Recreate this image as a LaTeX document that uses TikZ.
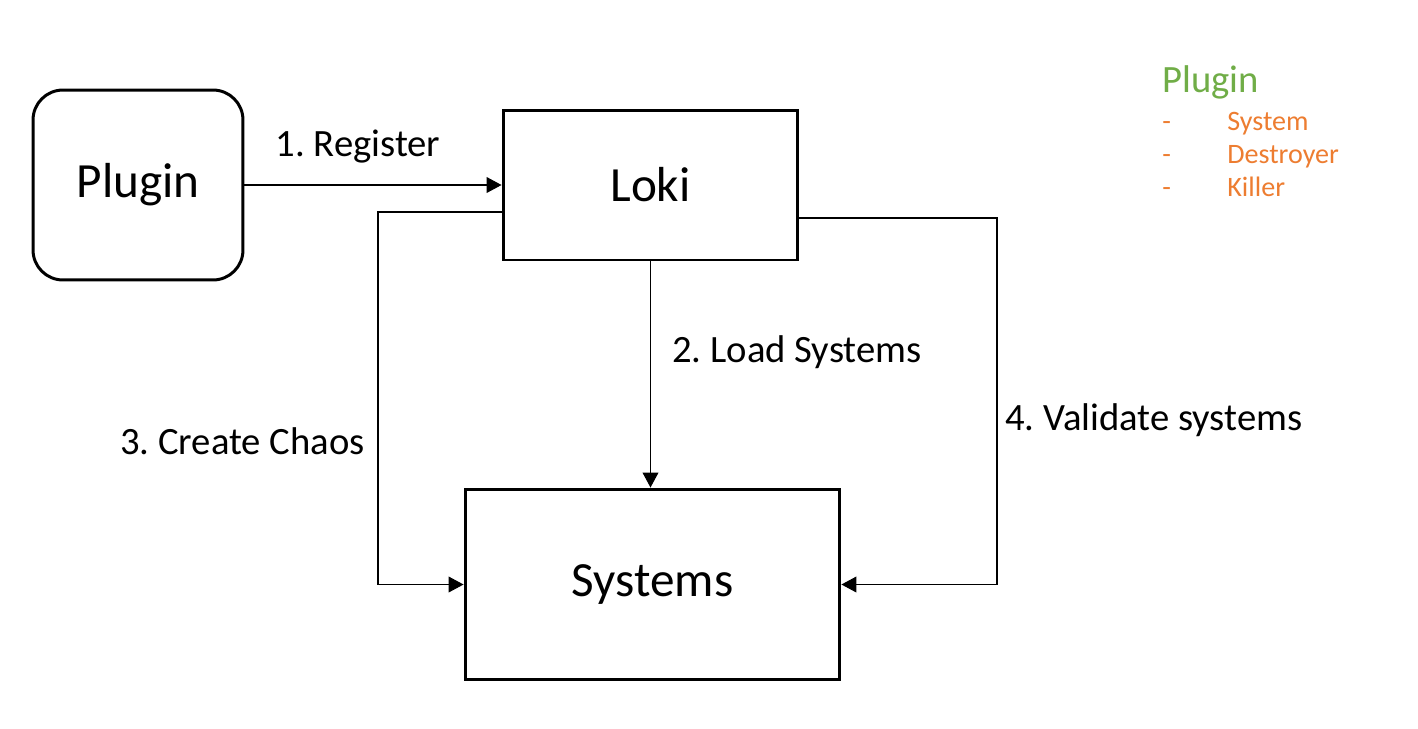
\documentclass[tikz,border=0pt]{standalone}
\usepackage{fontspec}
\setmainfont{Carlito}
\usepackage{tikz}
\usetikzlibrary{arrows.meta}
\definecolor{legendgreen}{RGB}{112,173,71}
\definecolor{legendorange}{RGB}{237,125,49}
\frenchspacing
\tikzset{
  block/.style={
    inner sep = 0pt,
    shape = rectangle,
    draw,
    line width = 1.7pt
  },
  plug/.style={
    block,
    rounded corners = 0.6cm
  },
  flow/.style={
    line width = 0.6pt,
    -{Triangle[length=8.5pt,width=9pt]}
  },
  lbl/.style={
    font = \fontsize{22}{26}\selectfont,
    inner sep = 0pt
  },
  item/.style={
    font = \fontsize{16}{19}\selectfont,
    text = legendorange,
    inner sep = 0pt,
    anchor = base west
  }
}
\begin{document}
\begin{tikzpicture}[x=0.02cm,y=-0.02cm]
        \useasboundingbox (0,0) rectangle (1418,728);
        \node[plug, minimum width=4.2cm, minimum height=3.8cm, font=\fontsize{28}{34}\selectfont] (plugin) at (138,185) {Plugin};
        \node[block, minimum width=5.9cm, minimum height=3.0cm, font=\fontsize{28}{34}\selectfont] (loki) at (650.5,185) {Loki};
        \node[block, minimum width=7.5cm, minimum height=3.82cm, font=\fontsize{28}{34}\selectfont] (systems) at (652.5,584.5) {Systems};
        % connectors
        \draw[flow] (plugin.east) -- (loki.west);
        \draw[flow] (loki.south) -- (loki.south |- systems.north);
        \draw[flow] ([yshift=-0.54cm]loki.west) -| (378,400) |- (systems.west);
        \draw[flow] ([yshift=-0.66cm]loki.east) -| (997,400) |- (systems.east);
        % labels
        \node[lbl] (reg) at (358,147) {1. Register};
        \node[lbl, anchor=west] (load) at (672,352) {2. Load Systems};
        \node[lbl, anchor=east] (chaos) at (365,441) {3. Create Chaos};
        \node[lbl, anchor=west] (valid) at (1005,420) {4. Validate systems};
        % legend
        \node[lbl, anchor=west, text=legendgreen] (leg) at (1162,82) {Plugin};
        \foreach \y/\t in {130/System, 163/Destroyer, 196/Killer}{
          \node[item] at (1162,\y) {-};
          \node[item] at (1227,\y) {\t};
        }
\end{tikzpicture}
\end{document}
